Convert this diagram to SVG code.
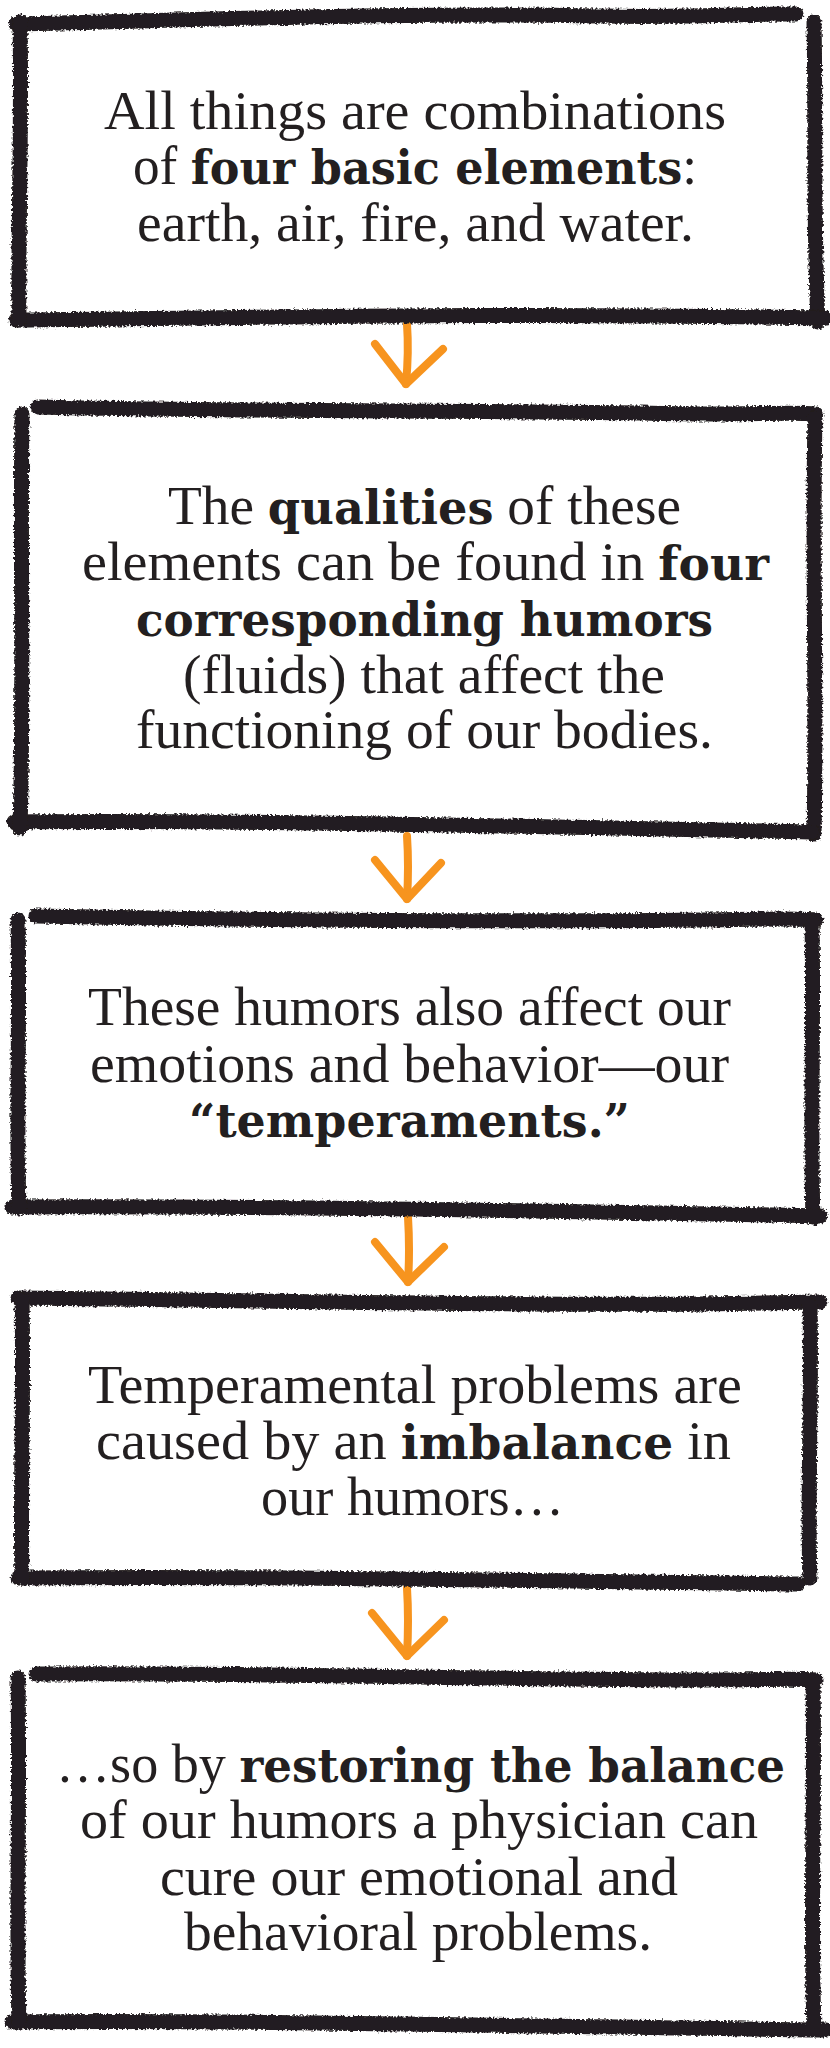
<svg xmlns="http://www.w3.org/2000/svg" width="830" height="2048" viewBox="0 0 830 2048">
<style>
.bg{fill:#ffffff}
.edge{fill:none;stroke:#231f20;stroke-width:15;stroke-linecap:round;stroke-linejoin:round}
.arrow{fill:none;stroke:#f7941e;stroke-width:8;stroke-linecap:round;stroke-linejoin:round}
.t{font-family:"Liberation Serif","Times New Roman",serif;font-size:55px;fill:#231f20}
.b{font-family:"DejaVu Serif",serif;font-weight:bold;font-size:46px}
</style>
<defs>
<filter id="rough" filterUnits="userSpaceOnUse" x="0" y="0" width="830" height="2048">
<feTurbulence type="fractalNoise" baseFrequency="0.45" numOctaves="2" seed="7" result="noise"/>
<feDisplacementMap in="SourceGraphic" in2="noise" scale="5" xChannelSelector="R" yChannelSelector="G"/>
</filter>
</defs>
<rect class="bg" x="0" y="0" width="830" height="2048"/>

<g id="connectors">
<g id="arrow1"><path class="arrow" d="M407,324 Q409,352 406,384"/><path class="arrow" d="M375,344 L406,384 L443,349"/></g>
<g id="arrow2"><path class="arrow" d="M407,836 Q409,866 407,899"/><path class="arrow" d="M375,860 L407,899 L441,863"/></g>
<g id="arrow3"><path class="arrow" d="M408,1217 Q410,1250 408,1282"/><path class="arrow" d="M375,1242 L408,1282 L444,1247"/></g>
<g id="arrow4"><path class="arrow" d="M407,1588 Q409,1620 407,1656"/><path class="arrow" d="M372,1613 L407,1656 L444,1620"/></g>
</g>

<g id="node1">
<g filter="url(#rough)">
<path class="edge" d="M16,24 C200,20 420,12 600,16 C700,18 760,13 796,14"/>
<path class="edge" d="M814,22 C816,120 813,220 818,322"/>
<path class="edge" d="M16,320 C250,318 500,312 826,318"/>
<path class="edge" d="M20,22 C22,120 18,230 19,320"/>
</g>
<text class="t" x="104" y="129" textLength="622" lengthAdjust="spacingAndGlyphs">All things are combinations</text>
<text class="t" x="133" y="184" textLength="564" lengthAdjust="spacingAndGlyphs">of <tspan class="b">four basic elements</tspan>:</text>
<text class="t" x="137" y="241" textLength="557" lengthAdjust="spacingAndGlyphs">earth, air, fire, and water.</text>
</g>

<g id="node2">
<g filter="url(#rough)">
<path class="edge" d="M38,407 C250,412 500,410 700,414 C760,414 800,412 816,414"/>
<path class="edge" d="M815,418 C812,560 817,700 814,834"/>
<path class="edge" d="M14,822 C250,820 500,826 812,832"/>
<path class="edge" d="M22,414 C20,560 24,700 20,828"/>
</g>
<text class="t" x="168" y="524" textLength="513" lengthAdjust="spacingAndGlyphs">The <tspan class="b">qualities</tspan> of these</text>
<text class="t" x="82" y="580" textLength="687" lengthAdjust="spacingAndGlyphs">elements can be found in <tspan class="b">four</tspan></text>
<text class="t" x="136" y="636" textLength="577" lengthAdjust="spacingAndGlyphs"><tspan class="b">corresponding humors</tspan></text>
<text class="t" x="183" y="693" textLength="482" lengthAdjust="spacingAndGlyphs">(fluids) that affect the</text>
<text class="t" x="136" y="748" textLength="577" lengthAdjust="spacingAndGlyphs">functioning of our bodies.</text>
</g>

<g id="node3">
<g filter="url(#rough)">
<path class="edge" d="M36,916 C250,920 500,922 700,920 C770,919 800,918 816,920"/>
<path class="edge" d="M812,924 C814,1020 810,1120 813,1218"/>
<path class="edge" d="M12,1207 C250,1206 500,1210 820,1216"/>
<path class="edge" d="M18,920 C20,1020 16,1120 19,1208"/>
</g>
<text class="t" x="88" y="1025" textLength="643" lengthAdjust="spacingAndGlyphs">These humors also affect our</text>
<text class="t" x="90" y="1082" textLength="639" lengthAdjust="spacingAndGlyphs">emotions and behavior—our</text>
<text class="t" x="189" y="1137" textLength="441" lengthAdjust="spacingAndGlyphs"><tspan class="b">“temperaments.”</tspan></text>
</g>

<g id="node4">
<g filter="url(#rough)">
<path class="edge" d="M18,1298 C250,1300 500,1306 700,1304 C770,1303 800,1302 820,1302"/>
<path class="edge" d="M810,1306 C812,1400 807,1500 810,1578"/>
<path class="edge" d="M18,1578 C250,1576 500,1580 798,1584"/>
<path class="edge" d="M22,1300 C24,1400 20,1500 22,1578"/>
</g>
<text class="t" x="88" y="1403" textLength="654" lengthAdjust="spacingAndGlyphs">Temperamental problems are</text>
<text class="t" x="96" y="1459" textLength="635" lengthAdjust="spacingAndGlyphs">caused by an <tspan class="b">imbalance</tspan> in</text>
<text class="t" x="261" y="1515" textLength="303" lengthAdjust="spacingAndGlyphs">our humors…</text>
</g>

<g id="node5">
<g filter="url(#rough)">
<path class="edge" d="M36,1674 C250,1672 500,1680 700,1680 C770,1680 800,1678 816,1680"/>
<path class="edge" d="M813,1684 C815,1800 810,1920 814,2028"/>
<path class="edge" d="M12,2022 C250,2020 500,2026 826,2030"/>
<path class="edge" d="M18,1678 C20,1800 16,1920 19,2022"/>
</g>
<text class="t" x="56" y="1782" textLength="729" lengthAdjust="spacingAndGlyphs">…so by <tspan class="b">restoring the balance</tspan></text>
<text class="t" x="80" y="1838" textLength="678" lengthAdjust="spacingAndGlyphs">of our humors a physician can</text>
<text class="t" x="160" y="1895" textLength="518" lengthAdjust="spacingAndGlyphs">cure our emotional and</text>
<text class="t" x="184" y="1950" textLength="468" lengthAdjust="spacingAndGlyphs">behavioral problems.</text>
</g>
</svg>
